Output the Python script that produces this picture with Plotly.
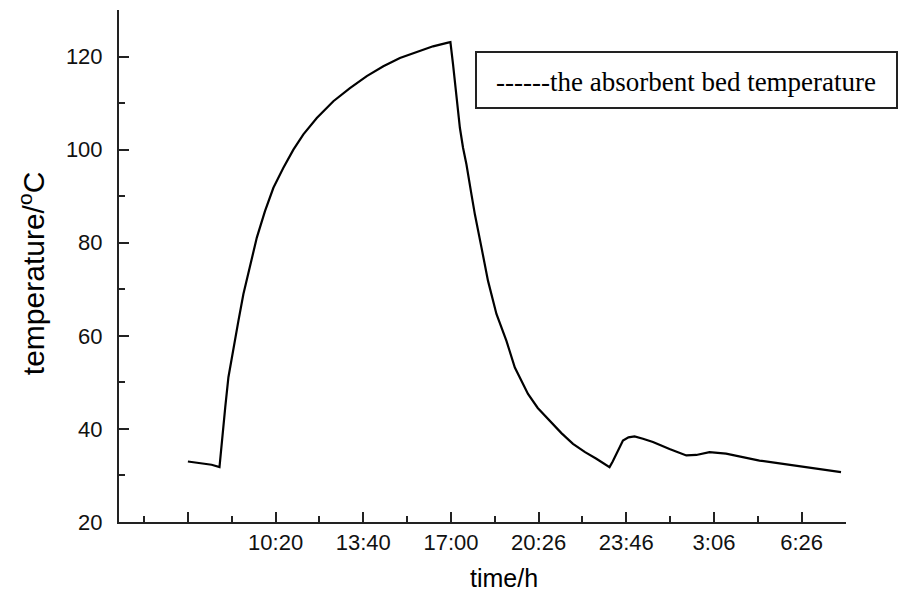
import plotly.graph_objects as go

# elapsed time in hours since 7:00 (first, unlabeled major tick)
hours = [0.0, 0.47, 0.90, 1.20, 1.29, 1.42, 1.54, 1.73, 1.92, 2.11, 2.37, 2.62, 2.93,
         3.25, 3.63, 4.01, 4.39, 4.90, 5.53, 6.16, 6.80, 7.43, 8.06, 8.69, 9.32, 9.89, 9.98,
         10.08, 10.21, 10.34, 10.46, 10.59, 10.78, 10.91, 11.16, 11.41, 11.73, 12.11, 12.43,
         12.93, 13.30, 13.76, 14.20, 14.64, 15.10, 15.53, 16.03, 16.15, 16.29, 16.54, 16.75,
         16.98, 17.30, 17.68, 18.31, 18.95, 19.33, 19.83, 20.46, 21.10, 21.73, 22.36, 22.99,
         23.90, 24.83]
temperature = [33.0, 32.6, 32.3, 31.8, 37.5, 44.7, 51.1, 57.5, 63.2, 69.0, 75.4, 81.1, 86.8,
               91.8, 96.1, 100.0, 103.3, 106.8, 110.4, 113.2, 115.8, 117.9, 119.7, 121.0, 122.2,
               123.0, 123.1, 118.3, 111.1, 104.7, 100.4, 96.8, 90.4, 86.1, 79.0, 71.8, 64.7,
               58.9, 53.2, 47.5, 44.5, 41.8, 39.1, 36.8, 35.0, 33.6, 31.8, 33.0, 34.7, 37.5,
               38.2, 38.4, 37.9, 37.2, 35.7, 34.3, 34.4, 35.0, 34.7, 34.0, 33.2, 32.7, 32.2,
               31.4, 30.7]

x_tick_vals = [0, 10/3, 20/3, 10, 40/3, 50/3, 20, 70/3]
x_tick_text = ["", "10:20", "13:40", "17:00", "20:26", "23:46", "3:06", "6:26"]
x_minor_vals = [-5/3, 5/3, 5, 25/3, 35/3, 15, 55/3, 65/3, 25]

legend_text = "------the absorbent bed temperature"

fig = go.Figure()
fig.add_trace(go.Scatter(x=hours, y=temperature, mode="lines",
                         line=dict(color="black", width=2.2), showlegend=False))

tick_font = dict(family="Liberation Sans, Arial, sans-serif", size=22, color="#111")

fig.update_layout(
    width=899, height=591,
    margin=dict(l=119, r=53, t=10, b=69),
    paper_bgcolor="white", plot_bgcolor="white",
    xaxis=dict(range=[-2.62, 25.02], showgrid=False, zeroline=False,
               showline=True, linecolor="#222", linewidth=2,
               tickmode="array", tickvals=x_tick_vals, ticktext=x_tick_text,
               ticks="inside", ticklen=10, tickwidth=2, tickcolor="#222",
               tickfont=tick_font, ticklabelstandoff=0,
               minor=dict(tickmode="array", tickvals=x_minor_vals, ticks="inside",
                          ticklen=6, tickwidth=2, tickcolor="#222")),
    yaxis=dict(range=[20, 130], showgrid=False, zeroline=False,
               showline=True, linecolor="#222", linewidth=2,
               tickmode="linear", tick0=20, dtick=20,
               ticks="inside", ticklen=10, tickwidth=2, tickcolor="#222",
               tickfont=tick_font, ticklabelstandoff=10,
               minor=dict(dtick=10, ticks="inside", ticklen=6, tickwidth=2,
                          tickcolor="#222")),
)

# y-axis title
fig.add_annotation(text="temperature/<sup>o</sup>C", xref="paper", yref="paper",
                   x=(32 - 119) / 727, y=(521.7 - 274) / 511.7, textangle=-90,
                   showarrow=False, xanchor="center", yanchor="middle",
                   font=dict(family="Liberation Sans, Arial, sans-serif", size=30, color="black"))
# x-axis title
fig.add_annotation(text="time/h", xref="paper", yref="paper",
                   x=(504 - 119) / 727, y=-(578 - 521.7) / 511.7,
                   showarrow=False, xanchor="center", yanchor="middle",
                   font=dict(family="Liberation Sans, Arial, sans-serif", size=25, color="black"))

# legend box
fig.add_shape(type="rect", xref="paper", yref="paper",
              x0=(476 - 119) / 727, x1=(897 - 119) / 727,
              y0=(521.7 - 108) / 511.7, y1=(521.7 - 52) / 511.7,
              line=dict(color="#222", width=2), fillcolor="white", layer="above")
fig.add_annotation(text=legend_text, xref="paper", yref="paper",
                   x=(494 - 119) / 727, y=(521.7 - 82) / 511.7,
                   showarrow=False, xanchor="left", yanchor="middle",
                   font=dict(family="Liberation Serif, Times New Roman, serif", size=27, color="black"))

fig.write_html("out.html")
